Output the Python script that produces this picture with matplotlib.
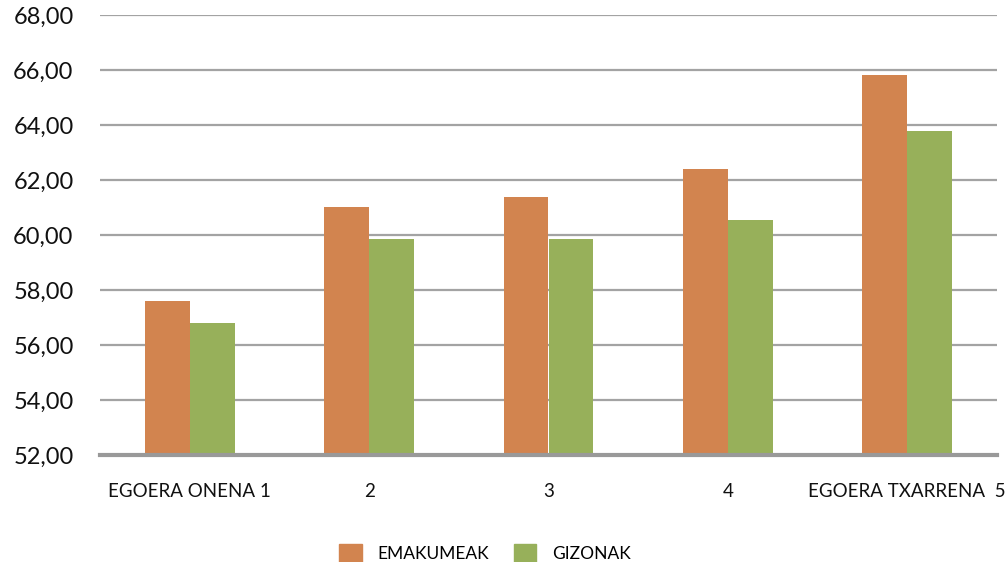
import numpy as np
import matplotlib

matplotlib.use("Agg")
import matplotlib.pyplot as plt
from matplotlib.patches import Patch

# Category labels and values per group
categories = ["EGOERA ONENA 1", "2", "3", "4", "EGOERA TXARRENA  5"]
emakumeak = [57.60, 61.02, 61.38, 62.40, 65.82]
gizonak = [56.80, 59.85, 59.85, 60.55, 63.78]
yticks = [52, 54, 56, 58, 60, 62, 64, 66, 68]

orange = "#D2844F"
green = "#97B05A"

plt.rcParams["font.family"] = ["Lato", "DejaVu Sans"]

fig = plt.figure(figsize=(10.08, 5.62), dpi=100)
ax = fig.add_axes([100 / 1008, 107 / 562, 897 / 1008, 440 / 562])

x = np.arange(len(categories))
w = 0.25
ax.bar(x - w / 2, emakumeak, width=w, color=orange, zorder=3)
ax.bar(x + w / 2, gizonak, width=w, color=green, zorder=3)

ax.set_xlim(-0.5, len(categories) - 0.5)
ax.set_ylim(52, 68)
ax.set_yticks(yticks)
ax.set_yticklabels([f"{v:.2f}".replace(".", ",") for v in yticks], fontsize=17, color="#111111")
ax.set_xticks(x)
ax.set_xticklabels(categories, fontsize=13.5, color="#111111")
ax.tick_params(axis="both", length=0)
ax.tick_params(axis="y", pad=19)
ax.tick_params(axis="x", pad=20)

# horizontal gridlines, bottom line drawn heavier
ax.grid(axis="y", color="#a3a3a3", linewidth=1.6, zorder=0)
ax.grid(axis="x", visible=False)
for side in ["top", "right", "left"]:
    ax.spines[side].set_visible(False)
ax.spines["bottom"].set_color("#999999")
ax.spines["bottom"].set_linewidth(3)
ax.spines["bottom"].set_zorder(4)

handles = [Patch(color=orange, label="EMAKUMEAK"), Patch(color=green, label="GIZONAK")]
fig.legend(handles=handles, loc="center", bbox_to_anchor=(485 / 1008, 1 - 553 / 562),
           ncol=2, frameon=False, fontsize=12.5, handlelength=1.3, handleheight=1.3,
           columnspacing=1.4, handletextpad=0.9)

fig.savefig("out.png", dpi=100)
